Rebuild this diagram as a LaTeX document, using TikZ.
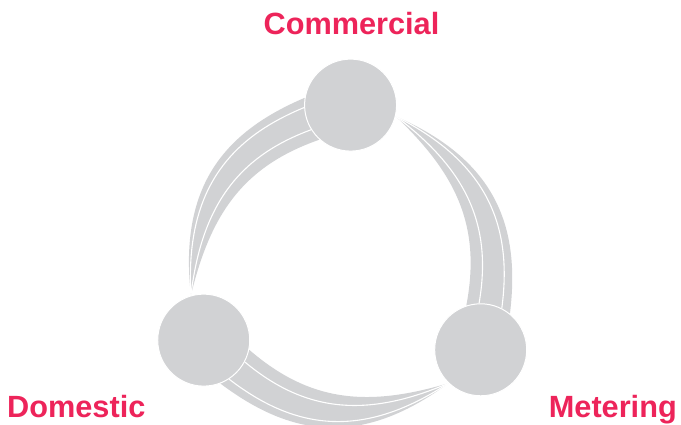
\documentclass[tikz,border=0pt]{standalone}
\usepackage{fontspec}
\setmainfont{Liberation Sans}
\usepackage{tikz}
\usetikzlibrary{calc}
\pgfdeclarelayer{bg}
\pgfsetlayers{bg,main}
\definecolor{swoosh}{RGB}{209,210,212}
\definecolor{tagred}{RGB}{237,36,90}

\begin{document}
\begin{tikzpicture}[x=1pt, y=1pt,
hub/.style={circle, fill=swoosh, draw=white, line width=1pt, minimum size=92pt, inner sep=0pt},
tag/.style={text=tagred, font=\fontsize{30.7}{36}\selectfont\bfseries, inner sep=0pt},
seam/.style={draw=white, line width=1.1pt},
]
\useasboundingbox (-345,-159) rectangle (336,265);

%Hubs
\node[hub] (com) at (88:160) {};
\node[hub] (dom) at (208:160) {};
\node[hub] (met) at (328:160) {};

%Labels
\node[tag, anchor=base] (com_txt) at (6.5,231) {Commercial};
\node[tag, anchor=base west] (dom_txt) at (-338,-152) {Domestic};
\node[tag, anchor=base east] (met_txt) at (332,-152) {Metering};

%Swooshes
\begin{pgfonlayer}{bg}
\foreach \a/\b/\r in {com/dom/0, dom/met/120, met/com/240} {
  \coordinate (o1) at (\r+131.7:179);
  \coordinate (o2) at (\r+154.2:185);
  \coordinate (i1) at (\r+135.6:141.5);
  \coordinate (i2) at (\r+158.8:144);
  \fill[swoosh] (\a.{171+\r}) .. controls (o1) and (o2) .. (\b.{106+\r})
    .. controls (i2) and (i1) .. (\a.{228+\r}) -- cycle;
  \draw[seam] (\a.{183+\r}) .. controls ($(o1)!0.2!(i1)$) and ($(o2)!0.2!(i2)$) .. (\b.{106+\r});
  \draw[seam] (\a.{212+\r}) .. controls ($(o1)!0.72!(i1)$) and ($(o2)!0.72!(i2)$) .. (\b.{106+\r});
}
\end{pgfonlayer}
\end{tikzpicture}
\end{document}
